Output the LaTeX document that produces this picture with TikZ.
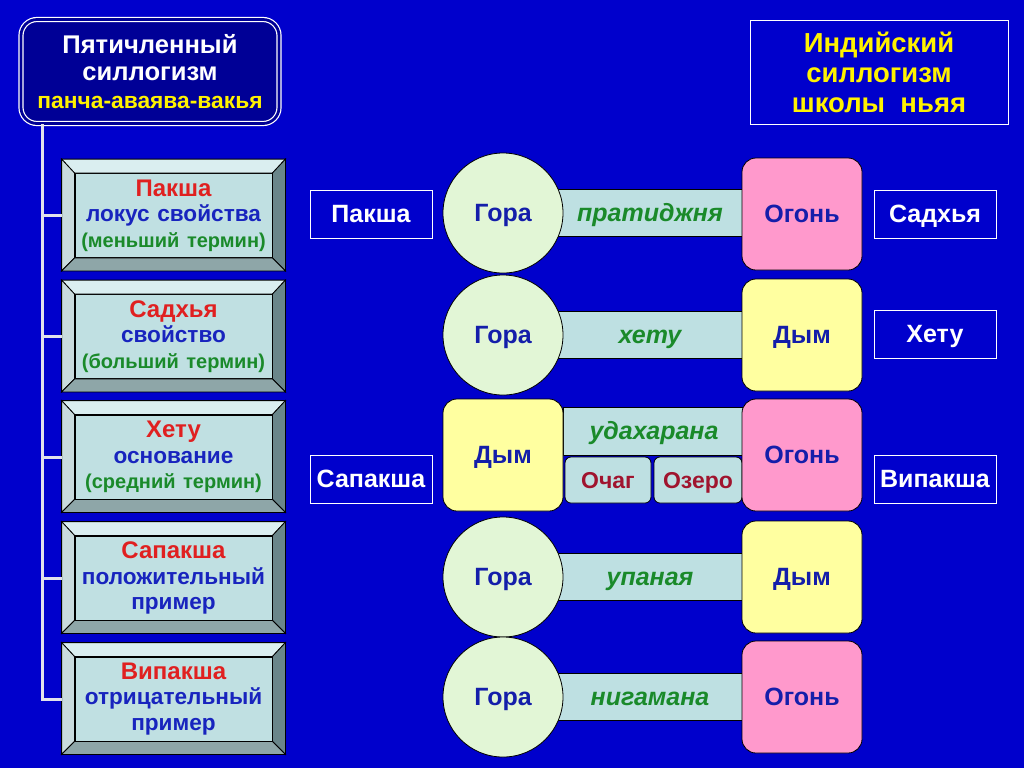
\documentclass[tikz,border=0pt]{standalone}
\usepackage{fontspec}
\setmainfont{Liberation Sans}
\usetikzlibrary{calc,backgrounds}
\definecolor{bgblue}{RGB}{0,0,204}
\definecolor{navy}{RGB}{0,0,150}
\definecolor{face}{RGB}{192,224,226}
\definecolor{bevlight}{RGB}{218,238,240}
\definecolor{bevmid}{RGB}{142,166,168}
\definecolor{bevdark}{RGB}{106,134,138}
\definecolor{termred}{RGB}{224,32,32}
\definecolor{termblue}{RGB}{24,36,190}
\definecolor{termgreen}{RGB}{26,138,42}
\definecolor{mount}{RGB}{226,246,214}
\definecolor{fire}{RGB}{255,153,204}
\definecolor{smoke}{RGB}{255,255,160}
\definecolor{barcol}{RGB}{190,224,226}
\definecolor{textblue}{RGB}{20,30,170}
\definecolor{exred}{RGB}{160,20,46}
\definecolor{trunkcol}{RGB}{225,225,235}
\begin{document}
\begin{tikzpicture}[x=0.5pt,y=-0.5pt,
  term/.style={draw,fill=face,text width=98.5pt,minimum height=42pt,inner sep=0pt,align=center,font=\bfseries\fontsize{11.3}{12.7}\selectfont},
  head/.style={draw=white,double=navy,double distance=1.4pt,line width=0.6pt,fill=navy,rounded corners=8pt,minimum width=129pt,minimum height=52pt,align=center,text=white,font=\bfseries\fontsize{12.8}{13.6}\selectfont},
  tag/.style={draw=white,line width=0.5pt,minimum width=61pt,minimum height=24pt,inner sep=0pt,text height=1.6ex,text depth=0pt,text=white,font=\bfseries\fontsize{12.5}{14}\selectfont},
  mnt/.style={circle,draw,fill=mount,minimum size=60pt,inner sep=0pt,text height=1.6ex,text depth=0pt,text=textblue,font=\bfseries\fontsize{12.5}{14}\selectfont},
  sq/.style={draw,rounded corners=7pt,minimum width=60pt,minimum height=56pt,inner sep=0pt,text height=1.6ex,text depth=0pt,text=textblue,font=\bfseries\fontsize{12.5}{14}\selectfont},
  bar/.style={draw,fill=barcol,minimum width=95pt,minimum height=23.5pt,inner sep=0pt,text height=1.6ex,text depth=0pt,text=termgreen,font=\bfseries\itshape\fontsize{12.5}{14}\selectfont},
  ex/.style={draw,fill=barcol,rounded corners=3pt,minimum height=23pt,inner sep=0pt,text height=1.6ex,text depth=0pt,text=exred,font=\bfseries\fontsize{11.5}{13}\selectfont},
  trunk/.style={draw=trunkcol,line width=1.5pt}]
\fill[bgblue] (0,0) rectangle (1024,768);
\node[head] (TITLE) at (150,71.5) {Пятичленный\\силлогизм\\\textcolor{yellow}{\fontsize{11.4}{13.6}\selectfont панча-аваява-вакья}};
\node[draw=white,line width=0.5pt,minimum width=129pt,minimum height=52pt,align=center,text=yellow,font=\bfseries\fontsize{13.75}{15}\selectfont] (NYAYA) at (879,72) {Индийский\\силлогизм\\школы\ \ ньяя};
\node[term] (PAKSHA) at (173.5,215.5) {\textcolor{termred}{\fontsize{12}{12.7}\selectfont Пакша}\\\textcolor{termblue}{локус свойства}\\\textcolor{termgreen}{\fontsize{10}{12.7}\selectfont(меньший термин)}};
\node[term] (SADHYA) at (173.5,336.5) {\textcolor{termred}{\fontsize{12}{12.7}\selectfont Садхья}\\\textcolor{termblue}{свойство}\\\textcolor{termgreen}{\fontsize{10}{12.7}\selectfont(больший термин)}};
\node[term] (HETU) at (173.5,457) {\textcolor{termred}{\fontsize{12}{12.7}\selectfont Хету}\\\textcolor{termblue}{основание}\\\textcolor{termgreen}{\fontsize{10}{12.7}\selectfont(средний термин)}};
\node[term] (SAPAKSHA) at (173.5,578) {\textcolor{termred}{\fontsize{12}{12.7}\selectfont Сапакша}\\\textcolor{termblue}{положительный}\\\textcolor{termblue}{пример}};
\node[term] (VIPAKSHA) at (173.5,699) {\textcolor{termred}{\fontsize{12}{12.7}\selectfont Випакша}\\\textcolor{termblue}{отрицательный}\\\textcolor{termblue}{пример}};
\foreach \n in {PAKSHA,SADHYA,HETU,SAPAKSHA,VIPAKSHA}{
  \path (\n.north west) ++(-13,-14) coordinate (TL) (\n.north east) ++(13,-14) coordinate (TR)
        (\n.south east) ++(13,13) coordinate (BR) (\n.south west) ++(-13,13) coordinate (BL);
  \filldraw[fill=bevlight] (TL) -- (TR) -- (\n.north east) -- (\n.north west) -- cycle;
  \filldraw[fill=bevlight!92!black] (TL) -- (\n.north west) -- (\n.south west) -- (BL) -- cycle;
  \filldraw[fill=bevdark] (TR) -- (BR) -- (\n.south east) -- (\n.north east) -- cycle;
  \filldraw[fill=bevmid] (BL) -- (BR) -- (\n.south east) -- (\n.south west) -- cycle;
}
\coordinate (TRUNK) at ($(TITLE.south west)+(22,0)$);
\draw[trunk] (TRUNK) |- ($(VIPAKSHA.west)+(-13,0)$);
\foreach \n in {PAKSHA,SADHYA,HETU,SAPAKSHA}
  \draw[trunk] (TRUNK |- \n.west) -- ($(\n.west)+(-13,0)$);
\node[tag] (TPAKSHA) at (371,214) {Пакша};
\node[tag] (TSAPAKSHA) at (371,479) {Сапакша};
\node[tag] (TSADHYA) at (935,214) {Садхья};
\node[tag] (THETU) at (935,334) {Хету};
\node[tag] (TVIPAKSHA) at (935,479) {Випакша};
\node[bar] (BAR1) at (650,213) {пратиджня};
\node[bar] (BAR2) at (650,335) {хету};
\node[bar,minimum width=91pt,minimum height=24pt] (BAR3) at (654,431) {удахарана};
\node[bar] (BAR4) at (650,577) {упаная};
\node[bar] (BAR5) at (650,697) {нигамана};
\node[ex,minimum width=43pt] (OCHAG) at (608,480) {Очаг};
\node[ex,minimum width=44pt] (OZERO) at (698,480) {Озеро};
\node[mnt] (GORA1) at (503,213) {Гора};
\node[mnt] (GORA2) at (503,335) {Гора};
\node[sq,fill=smoke] (DYM3) at (503,455) {Дым};
\node[mnt] (GORA4) at (503,577) {Гора};
\node[mnt] (GORA5) at (503,697) {Гора};
\node[sq,fill=fire] (FIRE1) at (802,214) {Огонь};
\node[sq,fill=smoke] (DYM2) at (802,335) {Дым};
\node[sq,fill=fire] (FIRE3) at (802,455) {Огонь};
\node[sq,fill=smoke] (DYM4) at (802,577) {Дым};
\node[sq,fill=fire] (FIRE5) at (802,697) {Огонь};
\end{tikzpicture}
\end{document}
